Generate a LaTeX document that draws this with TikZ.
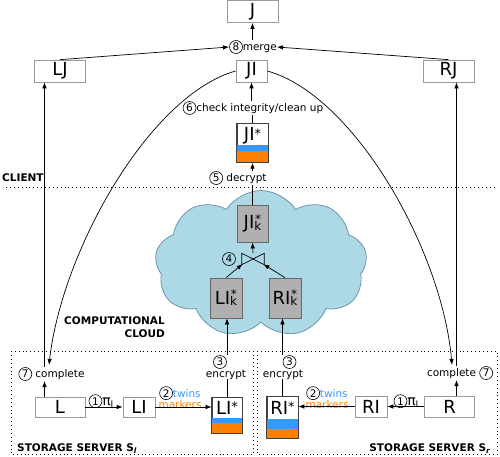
\documentclass[tikz,border=0pt]{standalone}
\usepackage{fontspec}
\setmainfont{DejaVu Sans}
\usetikzlibrary{shapes.symbols,arrows.meta,calc}
\definecolor{twinblue}{HTML}{3399FF}
\definecolor{markorange}{HTML}{FF8000}
\definecolor{cloudfill}{HTML}{ADD8E6}
\definecolor{cloudline}{HTML}{5F8FA0}
\definecolor{encgray}{HTML}{B0B0B0}
\newcommand\labf{\fontsize{10.5}{11.5}\selectfont}
\newcommand\boxf{\fontsize{18}{20}\selectfont}
\newcommand\cn[1]{\tikz[baseline=(cnum.base)]\node[draw, circle, line width=0.6pt, inner sep=0pt, minimum size=13pt, font=\labf, text=black](cnum){#1};}
\newcommand\sstar{\raisebox{2.5pt}{\fontsize{13}{13}\selectfont *}}
\newcommand\sk{{\fontsize{12}{12}\selectfont\makebox[0pt][l]{\hspace{0.8pt}\raisebox{5.5pt}{*}}\raisebox{-1.5pt}{k}}}
\newcommand\piI{{\fontsize{14}{14}\selectfont π}\raisebox{-2.5pt}{\fontsize{9}{9}\selectfont I}}
\newcommand\stripes[3]{%
  \fill[markorange] (#1.south west) rectangle ([yshift=#2pt]#1.south east);
  \fill[twinblue] ([yshift=#2pt]#1.south west) rectangle ([yshift=#3pt]#1.south east);
  \draw[encline] (#1.south west) rectangle (#1.north east);}
\tikzset{
  box/.style={draw=gray!80, line width=0.7pt, fill=white, font=\boxf, inner sep=0pt, minimum height=22pt},
  encbox/.style={draw=black!75, line width=0.7pt, fill=white, font=\boxf, inner sep=0pt},
  encline/.style={draw=black!75, line width=0.7pt},
  cbox/.style={draw=black!60, fill=encgray, line width=0.7pt, font=\boxf, inner sep=0pt},
  lab/.style={font=\labf, inner sep=0pt},
  blab/.style={font=\bfseries\fontsize{10.5}{13}\selectfont, inner sep=0pt},
  arr/.style={-{Latex[length=6pt,width=4.5pt]}, line width=0.7pt},
  ln/.style={line width=0.7pt},
  dots/.style={line width=0.9pt, dash pattern=on 0.9pt off 3pt},
}
\begin{document}
\begin{tikzpicture}[x=1pt,y=-1pt]
\useasboundingbox (0,0) rectangle (500,456);
% cloud
\node[cloud, cloud puffs=9, cloud puff arc=115, aspect=1.45, draw=cloudline, fill=cloudfill, line width=0.7pt,
      minimum width=212pt, minimum height=147pt, inner sep=0pt] (cloud) at (261,264) {};
% top boxes
\node[box, minimum width=51pt] (J) at (252.5,11.5) {J};
\node[box, minimum width=51pt] (LJ) at (60,71) {LJ};
\node[box, minimum width=31pt] (JI) at (251.5,71) {JI};
\node[box, minimum width=51pt] (RJ) at (448.5,71) {RJ};
\node[lab, anchor=west] (merge) at (229,47) {\cn{8}merge\hspace{11pt}};
\node[lab] (check) at (253,108) {\cn{6}check integrity/clean up};
\node[encbox, minimum width=31pt, text height=17.5pt, text depth=21.5pt, anchor=north] (JIs) at (252.5,123) {JI\sstar};
\stripes{JIs}{12}{18}
\node[lab] (dec) at (238,178) {\cn{5} decrypt};
\node[blab, anchor=west] (client) at (2,178) {CLIENT};
\draw[dots] (6,187) -- (495,187);
% cloud contents
\node[cbox, minimum width=31pt, minimum height=37pt] (JIk) at (252.5,223.5) {JI\sk};
\node[cbox, minimum width=32pt, minimum height=40pt] (LIk) at (226,298) {LI\sk};
\node[cbox, minimum width=32pt, minimum height=40pt] (RIk) at (285,298) {RI\sk};
\node[minimum width=22pt, minimum height=11pt, inner sep=0pt] (join) at (253,259) {};
\draw[ln] (join.north west) -- (join.south east) -- (join.north east) -- (join.south west) -- cycle;
\node[lab, anchor=east] (four) at (236,259) {\cn{4}};
\node[blab, align=right, anchor=north east] (cc) at (165,316) {COMPUTATIONAL\\CLOUD};
% storage servers
\draw[dots] (11,351) rectangle (253,454.5);
\draw[dots] (257,351) rectangle (497,454.5);
\node[blab, anchor=base west] (sl) at (17,451) {STORAGE SERVER S\raisebox{-2pt}{\fontsize{7.5}{8}\selectfont\itshape l}};
\node[blab, anchor=base east] (sr) at (490,451) {STORAGE SERVER S\raisebox{-2pt}{\fontsize{7.5}{8}\selectfont\itshape r}};
\node[box, minimum width=50pt, minimum height=20pt] (L) at (60,407) {L};
\node[box, minimum width=32pt, minimum height=20pt] (LI) at (139,407) {LI};
\node[encbox, minimum width=30pt, text height=17pt, text depth=19pt, anchor=north] (LIs) at (227,397) {LI\sstar};
\stripes{LIs}{11}{16}
\node[box, minimum width=32pt, minimum height=21pt] (RI) at (371,406.5) {RI};
\node[box, minimum width=50pt, minimum height=21pt] (R) at (449.5,406.5) {R};
\node[encbox, minimum width=31pt, text height=18pt, text depth=24pt, anchor=north] (RIs) at (282.5,396) {RI\sstar};
\stripes{RIs}{10}{20}
\node[lab, anchor=base] (p1l) at (101,405) {\cn{1}\piI};
\node[lab, anchor=base] (p1r) at (406,405) {\cn{1}\piI};
\node[lab, align=center] (t2l) at (180,397.5) {\cn{2}\textcolor{twinblue}{twins}\\\textcolor{markorange}{markers}};
\node[lab, align=center] (t2r) at (327,397.5) {\cn{2}\textcolor{twinblue}{twins}\\\textcolor{markorange}{markers}};
\node[lab] (encL) at (226,374.5) {encrypt};
\node[lab, anchor=east] (e3l) at (227,362) {\cn{3}};
\node[lab] (encR) at (283,374.5) {encrypt};
\node[lab, anchor=west] (e3r) at (282.5,362) {\cn{3}};
\node[lab] (compL) at (51.5,374) {\cn{7} complete};
\node[lab] (compR) at (460,373) {complete \cn{7}};
\coordinate (xl) at (44.5,0);
\coordinate (xr) at (456.5,0);
\coordinate (cl) at (49,365);
\coordinate (cr) at (452,365);
% connectors
\draw[arr] (J.south |- merge.north) -- (J.south);
\draw[arr] (LJ.north) -- (merge.west);
\draw[arr] (RJ.north) -- (merge.east);
\draw[arr] (JI.south |- check.north) -- (JI.south);
\draw[ln] (JIs.north) -- (JIs.north |- check.south);
\draw[arr] (JIs.south |- dec.north) -- (JIs.south);
\draw[ln] (JIk.north) -- (JIk.north |- dec.south);
\draw[arr] (join.north) -- (JIk.south);
\draw[arr, shorten >=-1pt] (LIk.north) -- (join.south west);
\draw[arr, shorten >=-1pt] (RIk.north) -- (join.south east);
\draw[ln] (LIs.north) -- (LIs.north |- encL.south);
\draw[arr] (LIs.north |- e3l.north) -- (LIs.north |- LIk.south);
\draw[ln] (RIs.north) -- (RIs.north |- encR.south);
\draw[arr] (RIs.north |- e3r.north) -- (RIs.north |- RIk.south);
\draw[arr] (L.east) -- (LI.west);
\draw[arr] (LI.east) -- (LI.east -| LIs.west);
\draw[arr] (R.west) -- (RI.east);
\draw[arr] (RI.west) -- (RI.west -| RIs.east);
\draw[arr] (xl |- L.north) -- (xl |- compL.south);
\draw[arr] (xl |- compL.north) -- (xl |- LJ.south);
\draw[arr] (xr |- R.north) -- (xr |- compR.south);
\draw[arr] (xr |- compR.north) -- (xr |- RJ.south);
\draw[arr] (JI.west) .. controls (150,95) and (62,250) .. (cl);
\draw[arr] (JI.east) .. controls (354,95) and (442,250) .. (cr);
\end{tikzpicture}
\end{document}
